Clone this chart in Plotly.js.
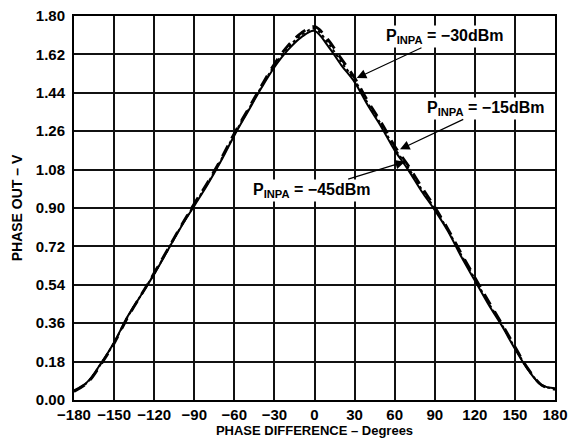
<!DOCTYPE html>
<html>
<head>
<meta charset="utf-8">
<script src="https://cdn.plot.ly/plotly-3.0.1.min.js"></script>
<style>html,body{margin:0;padding:0;background:#fff;}#chart{width:577px;height:442px;}</style>
</head>
<body>
<div id="chart"></div>
<script>
// Phase difference (degrees)
const phaseDeg = [-180,-170,-160,-150,-140,-130,-120,-110,-100,-90,-80,-70,-60,-50,-40,-30,-20,-10,0,10,20,30,40,50,60,70,80,90,100,110,120,130,140,150,160,170,180];
// PHASE OUT (V) for each input level
const out_m45 = [0.045,0.085,0.17,0.27,0.39,0.49,0.59,0.70,0.81,0.91,1.01,1.12,1.24,1.35,1.46,1.56,1.64,1.70,1.73,1.66,1.57,1.49,1.38,1.28,1.17,1.08,0.98,0.89,0.79,0.67,0.56,0.45,0.35,0.24,0.14,0.07,0.055];
const out_m30 = [0.04,0.08,0.165,0.265,0.385,0.49,0.595,0.705,0.815,0.92,1.02,1.13,1.25,1.36,1.47,1.575,1.66,1.72,1.75,1.69,1.60,1.51,1.40,1.30,1.19,1.10,1.00,0.905,0.80,0.685,0.575,0.465,0.36,0.25,0.145,0.07,0.05];
const out_m15 = [0.042,0.082,0.168,0.268,0.388,0.49,0.592,0.702,0.812,0.915,1.015,1.125,1.245,1.355,1.465,1.568,1.65,1.71,1.74,1.675,1.585,1.50,1.39,1.29,1.18,1.09,0.99,0.897,0.795,0.678,0.568,0.458,0.355,0.245,0.143,0.07,0.052];
const xTicks = [-180,-150,-120,-90,-60,-30,0,30,60,90,120,150,180];
const xTickText = ['\u2212180','\u2212150','\u2212120','\u221290','\u221260','\u221230','0','30','60','90','120','150','180'];
const yTicks = [0,0.18,0.36,0.54,0.72,0.90,1.08,1.26,1.44,1.62,1.80];
const yTickText = ['0.00','0.18','0.36','0.54','0.72','0.90','1.08','1.26','1.44','1.62','1.80'];
const labels = ['P<sub>INPA</sub> = \u221230dBm','P<sub>INPA</sub> = \u221215dBm','P<sub>INPA</sub> = \u221245dBm'];

const FAM = 'Liberation Sans, Arial, sans-serif';

const traces = [
  {x:phaseDeg, y:out_m45, mode:'lines', line:{color:'#000', width:2, shape:'spline'}, name:labels[2]},
  {x:phaseDeg, y:out_m15, mode:'lines', line:{color:'#000', width:2, dash:'dot', shape:'spline'}, name:labels[1]},
  {x:phaseDeg, y:out_m30, mode:'lines', line:{color:'#000', width:2.8, dash:'12px,8px', shape:'spline'}, name:labels[0]}
];

const ann = [];
function label(txt, tx, ty, hx, hy){
  ann.push({x:hx, y:hy, ax:tx, ay:ty, axref:'x', ayref:'y', xref:'x', yref:'y', text:txt, showarrow:true,
            arrowhead:2, arrowsize:1.6, arrowwidth:1.2, arrowcolor:'#000', standoff:0, startstandoff:0,
            bgcolor:'#fff', borderpad:1,
            font:{family:FAM, size:16, color:'#000', weight:'bold'}});
}
label(labels[0], 97.6, 1.703, 31.6, 1.509);
label(labels[1], 128.7, 1.367, 64.0, 1.175);
label(labels[2], -1.7, 0.984, 67.7, 1.117);

const layout = {
  width:577, height:442,
  margin:{l:74, r:22, t:16, b:42, pad:0},
  paper_bgcolor:'#fff', plot_bgcolor:'#fff',
  showlegend:false,
  font:{family:FAM, size:14, color:'#000', weight:'bold'},
  xaxis:{range:[-180,180], tickvals:xTicks, ticktext:xTickText, showgrid:true, gridcolor:'#111', gridwidth:2,
         zeroline:false, showline:true, linecolor:'#000', linewidth:2, mirror:true, ticks:'', ticklen:0,
         tickfont:{family:FAM, size:15, color:'#000', weight:'bold'},
         title:{text:'PHASE DIFFERENCE \u2013 Degrees', font:{family:FAM, size:13, color:'#000', weight:'bold'}, standoff:3}},
  yaxis:{range:[0,1.8], tickvals:yTicks, ticktext:yTickText, showgrid:true, gridcolor:'#111', gridwidth:2,
         zeroline:false, showline:true, linecolor:'#000', linewidth:2, mirror:true, ticks:'', ticklen:0,
         ticklabelstandoff:4,
         tickfont:{family:FAM, size:15, color:'#000', weight:'bold'},
         title:{text:'PHASE OUT \u2013 V', font:{family:FAM, size:14, color:'#000', weight:'bold'}, standoff:10}},
  annotations:ann
};
Plotly.newPlot('chart', traces, layout, {staticPlot:true, displayModeBar:false});
</script>
</body>
</html>
